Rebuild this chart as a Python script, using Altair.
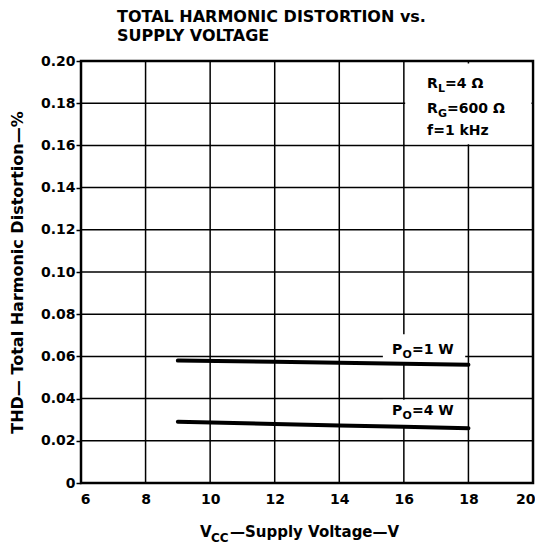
import altair as alt
import pandas as pd

# ---- data ----
vcc = [9, 12, 14, 16, 18]
thd_1w = [0.058, 0.0575, 0.057, 0.0565, 0.056]
thd_4w = [0.029, 0.028, 0.0273, 0.0266, 0.026]

x_ticks = [6, 8, 10, 12, 14, 16, 18, 20]
y_ticks = [0, 0.02, 0.04, 0.06, 0.08, 0.10, 0.12, 0.14, 0.16, 0.18, 0.20]

title_lines = ["TOTAL HARMONIC DISTORTION vs.", "SUPPLY VOLTAGE"]
y_title = "THD\u2014 Total Harmonic Distortion\u2014%"
x_title_main = "V"
x_title_sub = "CC"
x_title_rest = "\u2014Supply Voltage\u2014V"

# annotation texts (main / subscript / remainder) and their anchor in data units
label_main = ["R", "R", "f=1 kHz", "P", "P"]
label_sub = ["L", "G", "", "O", "O"]
label_rest = ["=4 \u03a9", "=600 \u03a9", "", "=1 W", "=4 W"]
label_x = [16.72, 16.72, 16.72, 15.63, 15.63]
label_y = [0.1871, 0.1752, 0.1649, 0.0612, 0.032]
sub_dx = [11, 11, 0, 10.5, 10.5]
rest_dx = [18, 20, 0, 20, 20]

# white label backgrounds (data units)
box_x0 = [16.04, 15.35, 15.35]
box_x1 = [19.95, 17.9, 17.9]
box_y0 = [0.1606, 0.0572, 0.0272]
box_y1 = [0.1988, 0.0705, 0.0394]

FONT = "DejaVu Sans"

lines_df = pd.DataFrame({
    "vcc": vcc * 2,
    "thd": thd_1w + thd_4w,
    "po": ["1 W"] * len(vcc) + ["4 W"] * len(vcc),
})
boxes_df = pd.DataFrame({"vcc": box_x0, "x1": box_x1, "thd": box_y0, "y1": box_y1})
xgrid_df = pd.DataFrame({"vcc": x_ticks})
ygrid_df = pd.DataFrame({"thd": y_ticks})

x_scale = alt.Scale(domain=[6, 20], nice=False, zero=False)
y_scale = alt.Scale(domain=[0, 0.2], nice=False, zero=False)

x_axis = alt.Axis(
    values=x_ticks, title=None, grid=False, ticks=False, domain=False,
    labelPadding=9, labelFont=FONT, labelFontSize=14, labelFontWeight="bold",
    labelColor="black", labelFlush=False,
    labelAlign=alt.ExprRef(expr="datum.value == 20 ? 'right' : 'center'"),
    labelOffset=alt.ExprRef(expr="datum.value == 20 ? 2 : (datum.value == 6 ? 4 : 0)"),
)
y_axis = alt.Axis(
    values=y_ticks, title=y_title, grid=False, domain=False,
    labelExpr="datum.value == 0 ? '0' : format(datum.value, '.2f')",
    tickSize=5, tickWidth=1.5, tickColor="black", labelPadding=1,
    labelFont=FONT, labelFontSize=14, labelFontWeight="bold", labelColor="black",
    labelFlush=False,
    titleFont=FONT, titleFontSize=16, titleFontWeight="bold", titleColor="black",
    titleX=-64, titleY=211, titleAngle=270, titleAlign="center",
    titleBaseline="middle",
)


def X(field):
    return alt.X(field, type="quantitative", scale=x_scale, axis=x_axis, title=None)


def Y(field):
    return alt.Y(field, type="quantitative", scale=y_scale, axis=y_axis, title=y_title)


xgrid = alt.Chart(xgrid_df).mark_rule(color="black", strokeWidth=1.5).encode(x=X("vcc"))
ygrid = alt.Chart(ygrid_df).mark_rule(color="black", strokeWidth=1.5).encode(y=Y("thd"))

lines = alt.Chart(lines_df).mark_line(
    color="black", strokeWidth=4, strokeCap="round"
).encode(x=X("vcc"), y=Y("thd"), detail="po:N")

boxes = alt.Chart(boxes_df).mark_rect(fill="white", opacity=1).encode(
    x=X("vcc"), x2="x1:Q", y=Y("thd"), y2="y1:Q",
)

layers = [xgrid, ygrid, boxes, lines]

text_style = dict(align="left", baseline="alphabetic", font=FONT,
                  fontWeight="bold", color="black")

for i in range(len(label_main)):
    d = pd.DataFrame({"vcc": [label_x[i]], "thd": [label_y[i]],
                      "m": [label_main[i]], "s": [label_sub[i]],
                      "r": [label_rest[i]]})
    enc = dict(x=X("vcc"), y=Y("thd"))
    layers.append(alt.Chart(d).mark_text(fontSize=14, **text_style)
                  .encode(text="m:N", **enc))
    if label_sub[i]:
        layers.append(alt.Chart(d).mark_text(fontSize=11, dx=sub_dx[i], dy=4,
                                             **text_style)
                      .encode(text="s:N", **enc))
    if label_rest[i]:
        layers.append(alt.Chart(d).mark_text(fontSize=14, dx=rest_dx[i],
                                             **text_style)
                      .encode(text="r:N", **enc))

# chart title (two lines)
title_y = [-39, -20]
for i, t in enumerate(title_lines):
    layers.append(
        alt.Chart(pd.DataFrame({"t": [t]})).mark_text(fontSize=16, **text_style)
        .encode(text="t:N", x=alt.value(36), y=alt.value(title_y[i]))
    )

# x axis title with subscript
layers.append(
    alt.Chart(pd.DataFrame({"t": [x_title_main]})).mark_text(fontSize=15, **text_style)
    .encode(text="t:N", x=alt.value(119), y=alt.value(54 + 422))
)
layers.append(
    alt.Chart(pd.DataFrame({"t": [x_title_sub]})).mark_text(fontSize=12, **text_style)
    .encode(text="t:N", x=alt.value(130), y=alt.value(59 + 422))
)
layers.append(
    alt.Chart(pd.DataFrame({"t": [x_title_rest]})).mark_text(fontSize=15, **text_style)
    .encode(text="t:N", x=alt.value(149), y=alt.value(54 + 422))
)

chart = alt.layer(*layers).properties(
    width=452, height=422,
    autosize=alt.AutoSizeParams(type="none"),
    padding={"left": 73, "top": 53, "right": 2, "bottom": 64},
    background="white",
).configure_view(stroke="black", strokeWidth=2.5)

chart.save("out.html", embed_options={"renderer": "svg", "actions": False})
